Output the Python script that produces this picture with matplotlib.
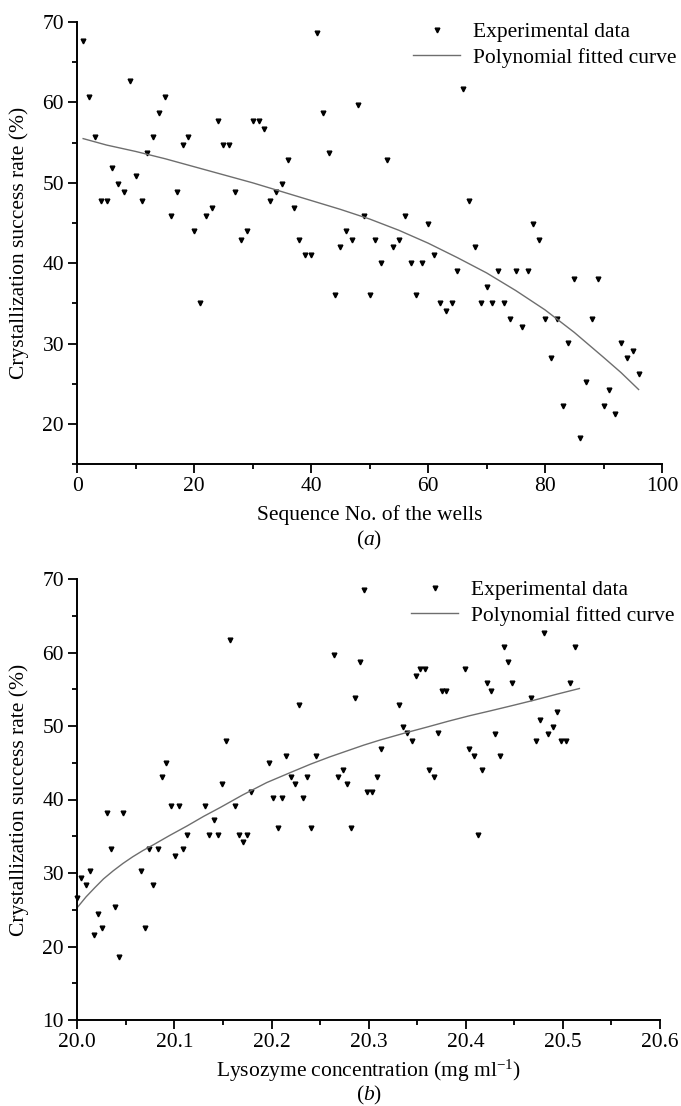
import numpy as np
import matplotlib
matplotlib.use("Agg")
import matplotlib.pyplot as plt

plt.rcParams['font.family'] = ['Liberation Serif', 'DejaVu Serif']
plt.rcParams['mathtext.fontset'] = 'custom'
plt.rcParams['mathtext.rm'] = 'Liberation Serif'
plt.rcParams['mathtext.it'] = 'Liberation Serif:italic'

# ---------------- data: panel (a) ----------------
wells = list(range(1, 97))
rate_a = [67.6, 60.7, 55.75, 47.8, 47.8, 51.8, 49.8, 48.9, 62.7, 50.8,
          47.8, 53.75, 55.75, 58.7, 60.7, 45.9, 48.9, 54.75, 55.75, 44.0,
          35.0, 45.9, 46.9, 57.7, 54.75, 54.75, 48.9, 42.9, 44.0, 57.7,
          57.7, 56.75, 47.8, 48.9, 49.8, 52.8, 46.9, 42.9, 41.0, 41.0,
          68.6, 58.7, 53.75, 36.1, 42.0, 44.0, 42.9, 59.7, 45.9, 36.1,
          42.9, 40.0, 52.8, 42.0, 42.9, 45.9, 40.0, 36.1, 40.0, 44.9,
          41.0, 35.0, 34.1, 35.0, 39.0, 61.7, 47.8, 42.0, 35.0, 37.0,
          35.0, 39.0, 35.0, 33.1, 39.0, 32.1, 39.0, 44.9, 42.9, 33.1,
          28.2, 33.1, 22.25, 30.1, 38.0, 18.3, 25.2, 33.1, 38.0, 22.25,
          24.25, 21.25, 30.1, 28.2, 29.1, 26.2]
fit_a_x = [1, 5, 10, 15, 20, 25, 30, 35, 40, 45, 50, 55, 60, 65, 70, 75, 80, 85, 90, 93, 96]
fit_a_y = [55.5, 54.7, 53.9, 53.0, 52.0, 51.0, 50.0, 48.9, 47.8, 46.7, 45.5, 44.1,
           42.5, 40.7, 38.8, 36.6, 34.2, 31.4, 28.3, 26.4, 24.3]

# ---------------- data: panel (b) ----------------
conc_b = [20.000, 20.0041, 20.0089, 20.0134, 20.0171, 20.0213, 20.0257, 20.0302, 20.0347, 20.0388,
          20.0429, 20.0473, 20.0655, 20.0696, 20.074, 20.078, 20.0827, 20.087, 20.0916, 20.096,
          20.1001, 20.1046, 20.1087, 20.1132, 20.1314, 20.1358, 20.1403, 20.1444, 20.149, 20.153,
          20.157, 20.1622, 20.1664, 20.1705, 20.1749, 20.179, 20.1975, 20.202, 20.2065, 20.2109,
          20.215, 20.2198, 20.224, 20.2287, 20.2325, 20.2369, 20.241, 20.2459, 20.264, 20.2689,
          20.2733, 20.2775, 20.2819, 20.286, 20.291, 20.295, 20.2987, 20.3038, 20.3083, 20.3128,
          20.3316, 20.3357, 20.340, 20.345, 20.349, 20.353, 20.358, 20.3625, 20.367, 20.3717,
          20.3755, 20.380, 20.399, 20.4036, 20.4084, 20.4122, 20.417, 20.4215, 20.426, 20.4304,
          20.4352, 20.4393, 20.4437, 20.448, 20.467, 20.472, 20.476, 20.4805, 20.4849, 20.4894,
          20.494, 20.498, 20.503, 20.5075, 20.512]
rate_b = [26.55, 29.36, 28.37, 30.3, 21.5, 24.4, 22.5, 38.16, 33.2, 25.4,
          18.57, 38.16, 30.3, 22.5, 33.2, 28.37, 33.2, 43.06, 45.0, 39.1,
          32.27, 39.1, 33.2, 35.2, 39.1, 35.2, 37.17, 35.2, 42.07, 47.9,
          61.66, 39.1, 35.2, 34.27, 35.2, 41.07, 45.0, 40.25, 36.16, 40.25,
          45.96, 43.06, 42.07, 52.86, 40.25, 43.06, 36.16, 45.96, 59.7, 43.06,
          44.0, 42.07, 36.16, 53.8, 58.7, 68.5, 41.07, 41.07, 43.06, 46.9,
          52.86, 49.9, 49.0, 47.96, 56.8, 57.75, 57.75, 44.0, 43.06, 49.0,
          54.8, 54.8, 57.75, 46.9, 45.96, 35.17, 44.0, 55.8, 54.8, 48.9,
          45.96, 60.7, 58.7, 55.8, 53.8, 47.9, 50.86, 62.7, 48.9, 49.9,
          51.86, 47.9, 47.9, 55.8, 60.7]
fit_b_x = [20.0, 20.009, 20.018, 20.027, 20.037, 20.047, 20.057, 20.0675, 20.0785, 20.095,
           20.113, 20.13, 20.147, 20.17, 20.195, 20.22, 20.24, 20.26, 20.2775, 20.295, 20.312,
           20.336, 20.36, 20.382, 20.404, 20.425, 20.447, 20.47, 20.493, 20.517]
fit_b_y = [25.3, 26.75, 28.0, 29.2, 30.3, 31.3, 32.2, 33.05, 33.85, 35.1,
           36.4, 37.7, 38.9, 40.6, 42.3, 43.7, 44.8, 45.8, 46.6, 47.4, 48.1,
           49.0, 49.85, 50.65, 51.4, 52.05, 52.75, 53.5, 54.3, 55.1]

W, H = 681, 1106
fig = plt.figure(figsize=(W / 100, H / 100), dpi=100)

FS = 15.5
line_color = '#6e6e6e'


def px_rect(left, top, right, bottom):
    return [left / W, 1 - bottom / H, (right - left) / W, (bottom - top) / H]


def style(ax):
    for s in ['top', 'right']:
        ax.spines[s].set_visible(False)
    for s in ['left', 'bottom']:
        ax.spines[s].set_linewidth(1.4)
    ax.tick_params(which='major', direction='out', length=6.5, width=1.3, labelsize=FS, pad=3)
    ax.tick_params(which='minor', direction='out', length=3.5, width=1.3)


# ---------------- panel (a) ----------------
axa = fig.add_axes(px_rect(77.3, 22, 662, 464.3))
axa.plot(wells, rate_a, linestyle='none', marker='v', markersize=3.4, color='black',
         label='Experimental data')
axa.plot(fit_a_x, fit_a_y, color=line_color, linewidth=1.0, label='Polynomial fitted curve')
axa.set_xlim(0, 100)
axa.set_ylim(15, 70)
axa.set_xticks([0, 20, 40, 60, 80, 100])
axa.set_xticks([10, 30, 50, 70, 90], minor=True)
axa.set_yticks([20, 30, 40, 50, 60, 70])
axa.set_yticks([15, 25, 35, 45, 55, 65], minor=True)
style(axa)
axa.set_xlabel('Sequence No. of the wells', fontsize=FS)
axa.xaxis.set_label_coords(0.5, (464.3 - 515) / (464.3 - 22))
axa.xaxis.label.set_va('center')
axa.set_ylabel('Crystallization success rate (%)', fontsize=FS)
axa.yaxis.set_label_coords((19 - 77.3) / (662 - 77.3), 0.5)
axa.yaxis.label.set_va('center')
fig.text(369 / W, 1 - 540 / H, r'($\mathit{a}$)', fontsize=FS, ha='center', va='center')
axa.legend(loc='upper left', bbox_to_anchor=(413 / W, 1 - 22 / H), bbox_transform=fig.transFigure,
           frameon=False, fontsize=FS, handlelength=2.2, handletextpad=0.6, labelspacing=0.25,
           borderpad=0, borderaxespad=0, numpoints=1)

# ---------------- panel (b) ----------------
axb = fig.add_axes(px_rect(77.3, 579, 660, 1020))
axb.plot(conc_b, rate_b, linestyle='none', marker='v', markersize=3.4, color='black',
         label='Experimental data', clip_on=False)
axb.plot(fit_b_x, fit_b_y, color=line_color, linewidth=1.0, label='Polynomial fitted curve')
axb.set_xlim(20.0, 20.6)
axb.set_ylim(10, 70)
axb.set_xticks([20.0, 20.1, 20.2, 20.3, 20.4, 20.5, 20.6])
axb.set_xticklabels(['20.0', '20.1', '20.2', '20.3', '20.4', '20.5', '20.6'])
axb.set_xticks([20.05, 20.15, 20.25, 20.35, 20.45, 20.55], minor=True)
axb.set_yticks([10, 20, 30, 40, 50, 60, 70])
axb.set_yticks([15, 25, 35, 45, 55, 65], minor=True)
style(axb)
axb.set_xlabel(r'Lysozyme concentration (mg ml$^{-1}$)', fontsize=FS)
axb.xaxis.set_label_coords(0.5, (1020 - 1071) / (1020 - 579))
axb.xaxis.label.set_va('center')
axb.set_ylabel('Crystallization success rate (%)', fontsize=FS)
axb.yaxis.set_label_coords((19 - 77.3) / (660 - 77.3), 0.5)
axb.yaxis.label.set_va('center')
fig.text(369 / W, 1 - 1095 / H, r'($\mathit{b}$)', fontsize=FS, ha='center', va='center')
axb.legend(loc='upper left', bbox_to_anchor=(411 / W, 1 - 580 / H), bbox_transform=fig.transFigure,
           frameon=False, fontsize=FS, handlelength=2.2, handletextpad=0.6, labelspacing=0.25,
           borderpad=0, borderaxespad=0, numpoints=1)

fig.savefig('out.png', dpi=100)
